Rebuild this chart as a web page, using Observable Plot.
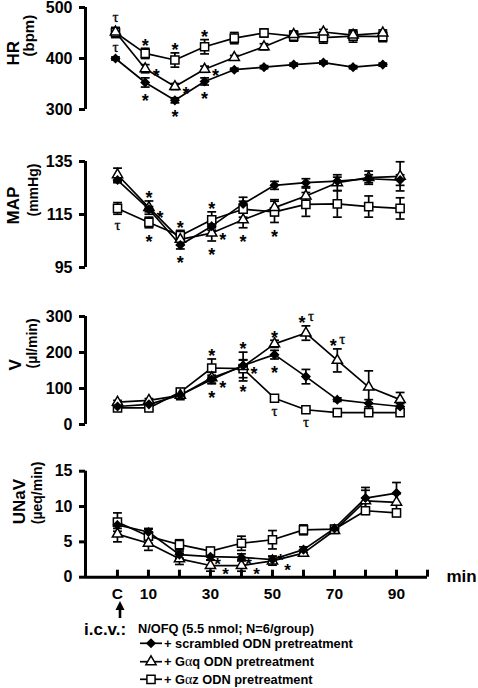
<!DOCTYPE html>
<html><head><meta charset="utf-8">
<script src="https://cdn.jsdelivr.net/npm/d3@7"></script>
<script src="https://cdn.jsdelivr.net/npm/@observablehq/plot@0.6"></script>
<style>
body{margin:0;background:#fff;font-family:"Liberation Sans",Arial,sans-serif;}
#chart{position:relative;width:478px;height:688px;overflow:hidden;}
#chart svg{position:absolute;left:0;}
</style></head><body><div id="chart"></div>
<script>
// ---- time points (min); "C" = control ----
const times = [0,10,20,30,40,50,60,70,80,90];
const xAxisTicks = [0,10,20,30,40,50,60,70,80,90,100];
const xTickLabels = ["C","10","","30","","50","","70","","90",""];

// ---- HR (bpm) ----
const hrTicks = [300,400,500];
const hrScr = [400,353,318,355,378,383,388,392,383,388];
const hrScrSem = [3,9,5,7,3,3,3,3,3,3];
const hrGq = [452,380,345,379,402,423,447,452,446,450];
const hrGqSem = [8,8,6,6,4,6,6,5,8,6];
const hrGz = [451,410,397,423,440,450,444,441,444,443];
const hrGzSem = [10,10,14,14,11,8,10,11,12,10];
const hrNotes = [["gz",0,"above","τ"],["scr",0,"above","τ"],
  ["gz",10,"above","*"],["gz",20,"above","*"],["gz",30,"above","*"],
  ["gq",10,"right","*"],["gq",20,"right","*"],["gq",30,"right","*"],
  ["scr",10,"below","*"],["scr",20,"below","*"],["scr",30,"below","*"]];

// ---- MAP (mmHg) ----
const mapTicks = [95,115,135];
const mapScr = [128,117,103.5,110.6,119,126,127,127.6,128.5,128];
const mapScrSem = [1,1,1.5,1.5,2.5,1.5,1.5,1.5,1.5,2];
const mapGq = [130,117.6,105.6,108,113,117.6,122,127,128.9,129.4];
const mapGqSem = [2.5,2.5,2,3,3,3,3,3,2.5,5.5];
const mapGz = [117.3,112,107,113,117,116,118.8,119,118,117.3];
const mapGzSem = [2.2,2,2,3,3,4,4.5,5,4,4];
const mapNotes = [["gz",0,"below","τ"],
  ["gq",10,"above","*"],["gq",10,"lowright","*"],["gz",10,"below","*"],
  ["gz",20,"above","*"],["scr",20,"below","*"],
  ["gz",30,"above","*"],["gq",30,"right","*"],["gq",30,"below","*"],
  ["gq",40,"below","*"],["gz",50,"below","*"]];

// ---- V (µl/min) ----
const vTicks = [0,100,200,300];
const vScr = [50,56,82,125,164,194,133,69,59,50];
const vScrSem = [5,5,8,12,15,12,20,5,10,8];
const vGq = [62,67,81,130,161,224,254,178,104,69];
const vGqSem = [5,5,12,15,40,10,20,32,45,20];
const vGz = [46,46,90,157,155,73,41,33,33,33];
const vGzSem = [5,5,10,25,25,5,5,5,5,5];
const vNotes = [["gz",30,"above","*"],["gq",30,"lowright","*"],["scr",30,"below","*"],
  ["gq",40,"above","*"],["gq",40,"right","*"],["gz",40,"below","*"],
  ["gq",50,"above","*"],["scr",50,"below","*"],
  ["gq",60,"above","*τ"],["gq",70,"above","*τ"],
  ["gz",50,"below","τ"],["gz",60,"below","τ"]];

// ---- UNaV (µeq/min) ----
const uTicks = [0,5,10,15];
const uScr = [7.4,6.4,3.2,2.9,2.8,2.5,3.9,6.9,11.2,11.9];
const uScrSem = [0.5,0.5,0.5,0.5,0.5,0.5,0.4,0.4,1.5,1.5];
const uGq = [6.1,4.8,2.6,1.65,1.65,2.3,3.4,6.6,10.8,10.6];
const uGqSem = [1.1,1.0,0.8,0.8,0.8,0.6,0.4,0.4,1.5,1.2];
const uGz = [7.8,5.8,4.6,3.7,4.8,5.3,6.7,6.8,9.4,9.1];
const uGzSem = [1.3,1.0,0.7,0.5,1.0,1.3,0.7,0.4,0.5,0.5];
const uNotes = [["scr",30,"rightA","*"],["gq",30,"rightB","*"],
  ["scr",40,"rightA","*"],["gq",40,"rightB","*"],
  ["scr",50,"rightC","*"],["gq",50,"rightB","*"]];

const legendTitle = "N/OFQ (5.5 nmol; N=6/group)";
const legendLabels = [["+ scrambled ODN pretreatment"],["+ G","α","q ODN pretreatment"],["+ G","α","z ODN pretreatment"]];

// ---------------- drawing ----------------
const FONT = "Liberation Sans, Arial, Helvetica, sans-serif";
const SERIF = "Liberation Serif, DejaVu Serif, serif";
const seriesStyle = {
  gz:  {symbol:"square",   r:4.6, fill:"white"},
  gq:  {symbol:"triangle", r:3.8, fill:"white"},
  scr: {symbol:"diamond2", r:3.6, fill:"black"}
};
const cap = {draw(ctx, size){ const w = Math.sqrt(size)/2; ctx.moveTo(-w,0); ctx.lineTo(w,0); }};
// pixel offsets of an annotation relative to its anchor
const notePos = {
  above:{dx:0,dy:-2.5}, below:{dx:0,dy:14.5}, right:{dx:11,dy:7.5}, lowright:{dx:11,dy:10.5}, upright:{dx:12,dy:-1.5},
  rightA:{dx:7,dy:7.5,fs:17}, rightB:{dx:15,dy:9.5,fs:17}, rightC:{dx:8,dy:1,fs:17}
};

function rows(vals, sems, s){ return times.map((t,i)=>({t, v: vals[i], e: sems[i], s})); }

const panels = [
  {label:"HR", unit:"(bpm)", ticks:hrTicks, domain:[300,500], top:0, height:135, mt:7, mb:26, xMin:-10.1, mr:66,
   lx:13, ly:7, ux:29, uy:-2, us:15, series:{gz:[hrGz,hrGzSem], gq:[hrGq,hrGqSem], scr:[hrScr,hrScrSem]}, notes:hrNotes},
  {label:"MAP", unit:"(mmHg)", ticks:mapTicks, domain:[95,135], top:135, height:150, mt:26, mb:18, xMin:-10.2, mr:47,
   lx:13, ly:10, ux:33, uy:2, us:14, series:{gz:[mapGz,mapGzSem], gq:[mapGq,mapGqSem], scr:[mapScr,mapScrSem]}, notes:mapNotes},
  {label:"V", unit:"(µl/min)", ticks:vTicks, domain:[0,300], top:285, height:150, mt:31, mb:11, xMin:-10.2, mr:47,
   lx:15, ly:0, ux:32, uy:-2, us:14, series:{gz:[vGz,vGzSem], gq:[vGq,vGqSem], scr:[vScr,vScrSem]}, notes:vNotes},
  {label:"UNaV", unit:"(µeq/min)", ticks:uTicks, domain:[0,15], top:435, height:175, mt:35.7, mb:33.3, xMin:-10.3, mr:51,
   lx:19, ly:0, ux:37, uy:0, us:14, series:{gz:[uGz,uGzSem], gq:[uGq,uGqSem], scr:[uScr,uScrSem]}, notes:uNotes, xAxis:true}
];

const ML = 85;
const chart = document.getElementById("chart");

for (const p of panels) {
  const data = ["gz","gq","scr"].flatMap(s => rows(p.series[s][0], p.series[s][1], s));
  const [y0, y1] = p.domain;
  const marks = [];
  marks.push(Plot.ruleX([p.xMin], {y1: y0, y2: y1, strokeWidth: 3}));
  marks.push(Plot.axisY({ticks: p.ticks, tickSize: 6, tickPadding: 7, strokeWidth: 3, fontSize: 16, fontWeight: "bold", label: null}));
  marks.push(Plot.text([p.label], {frameAnchor: "left", text: d => d, rotate: -90, dx: p.lx - ML, dy: p.ly, fontSize: 17, fontWeight: "bold", fill: "black"}));
  marks.push(Plot.text([p.unit], {frameAnchor: "left", text: d => d, rotate: -90, dx: p.ux - ML, dy: p.uy, fontSize: p.us, fontWeight: "bold", fill: "black"}));
  if (p.xAxis) {
    marks.push(Plot.ruleY([y0], {x1: p.xMin, x2: 100, strokeWidth: 3}));
    const plotH = p.height - p.mt - p.mb;
    marks.push(Plot.ruleX(xAxisTicks, {x: d => d, y1: y1, y2: y0, insetTop: plotH - 7, strokeWidth: 3}));
    marks.push(Plot.axisX({ticks: xAxisTicks, tickSize: 0, tickPadding: 11, fontSize: 15.5, fontWeight: "bold",
      tickFormat: d => xTickLabels[xAxisTicks.indexOf(d)], label: null}));
    marks.push(Plot.text(["min"], {frameAnchor: "bottom-right", text: d => d, textAnchor: "start", dx: 19, dy: 5, fontSize: 17, fontWeight: "bold", fill: "black"}));
  }
  marks.push(Plot.line(data, {x: "t", y: "v", z: "s", stroke: "black", strokeWidth: 1.7}));
  marks.push(Plot.ruleX(data, {x: "t", y1: d => d.v - d.e, y2: d => d.v + d.e, stroke: "black", strokeWidth: 1.7}));
  marks.push(Plot.dot(data, {x: "t", y: d => d.v + d.e, symbol: cap, r: 5, stroke: "black", strokeWidth: 1.7}));
  marks.push(Plot.dot(data, {x: "t", y: d => d.v - d.e, symbol: cap, r: 5, stroke: "black", strokeWidth: 1.7}));
  for (const s of ["gz","gq","scr"]) {
    const st = seriesStyle[s];
    marks.push(Plot.dot(data.filter(d => d.s === s), {x: "t", y: "v", symbol: st.symbol, r: st.r, fill: st.fill, stroke: "black", strokeWidth: 1.5}));
  }
  // significance annotations
  for (const [s, t, pos, glyph] of p.notes) {
    const d = data.find(r => r.s === s && r.t === t);
    const parts = glyph === "*τ" ? [["*", -4], ["τ", 5]] : [[glyph, 0]];
    for (const [g, shift] of parts) {
      const star = g === "*";
      const o = notePos[pos];
      let y = d.v, dx = o.dx + shift, dy = o.dy;
      if (pos === "above") { y = d.v + d.e; dy = star ? -2.5 : -10; }
      else if (pos === "below") { y = d.v - d.e; dy = star ? 14.5 : 11; }
      marks.push(Plot.text([{t, y, g}], {x: "t", y: "y", text: "g", dx, dy, lineAnchor: "middle", fill: "black",
        opacity: star ? 1 : 0.99, stroke: star ? null : "black", strokeWidth: 0.3,
        fontSize: star ? (o.fs || 18) : 15, fontWeight: star ? "bold" : "normal", fontFamily: star ? FONT : SERIF}));
    }
  }
  const svg = Plot.plot({
    width: 478, height: p.height,
    marginLeft: ML, marginRight: p.mr, marginTop: p.mt, marginBottom: p.mb,
    x: {domain: [p.xMin, 100], axis: null},
    y: {domain: p.domain, axis: null},
    style: {fontFamily: FONT, background: "transparent", overflow: "visible", color: "black"},
    marks
  });
  svg.style.top = p.top + "px";
  chart.appendChild(svg);
}

// ---- injection arrow and legend ----
const leg = d3.select(chart).append("svg").attr("width", 478).attr("height", 98)
  .style("top", "590px").style("font-family", FONT);
leg.append("path").attr("d", "M120,11 L124.5,20 L115.5,20 Z").attr("fill", "black");
leg.append("rect").attr("x", 118.7).attr("y", 19).attr("width", 2.6).attr("height", 9).attr("fill", "black");
leg.append("text").attr("x", 84).attr("y", 45).attr("font-size", 17).attr("font-weight", "bold").text("i.c.v.:");
leg.append("text").attr("x", 138).attr("y", 43).attr("font-size", 12.8).attr("font-weight", "bold").text(legendTitle);
const legKeys = ["scr","gq","gz"];
const rowY = [53.3, 71.7, 89.3];
legKeys.forEach((k, i) => {
  const st = seriesStyle[k];
  const g = leg.append("g");
  g.append("line").attr("x1", 140).attr("x2", 162).attr("y1", rowY[i]).attr("y2", rowY[i]).attr("stroke", "black").attr("stroke-width", 1.7);
  const symType = {square: d3.symbolSquare, triangle: d3.symbolTriangle, diamond2: d3.symbolDiamond2}[st.symbol];
  g.append("path").attr("d", d3.symbol(symType, Math.PI * st.r * st.r)())
    .attr("transform", `translate(151,${rowY[i]})`).attr("fill", st.fill).attr("stroke", "black").attr("stroke-width", 1.5);
  const t = g.append("text").attr("x", 164).attr("y", rowY[i] + 4.5).attr("font-size", 12.8).attr("font-weight", "bold");
  legendLabels[i].forEach(part => {
    const ts = t.append("tspan").text(part);
    if (part === "α") ts.attr("font-family", SERIF).attr("font-weight", "normal").attr("font-size", 14);
  });
});
</script></body></html>
